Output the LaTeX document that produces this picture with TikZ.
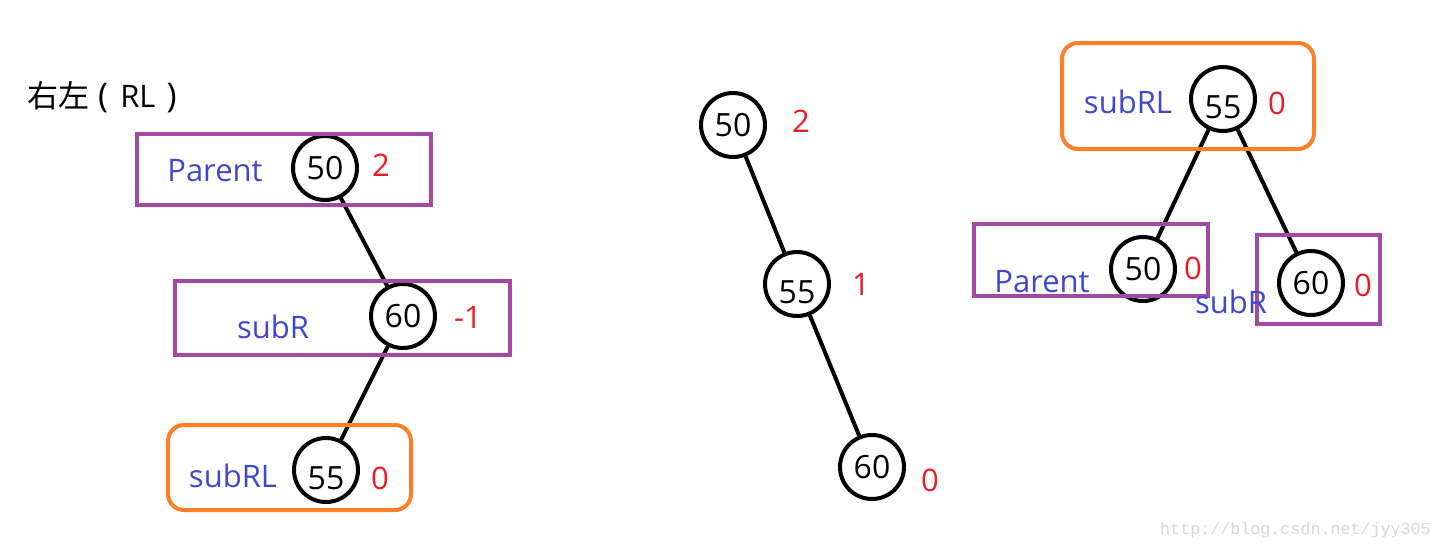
\documentclass[tikz,border=0pt]{standalone}
\usepackage{fontspec}
\setmainfont{Open Sans}
\newfontfamily\cjk{Noto Sans CJK SC}
\newfontfamily\wmfont{Liberation Mono}
\definecolor{pbox}{HTML}{A349A4}
\definecolor{obox}{HTML}{FF7F27}
\definecolor{lblue}{HTML}{3F48CC}
\definecolor{bred}{HTML}{ED1C24}
\definecolor{wm}{HTML}{D9D7D3}
\tikzset{
  treenode/.style={circle,draw=black,line width=4pt,minimum size=64pt,inner sep=0pt,
    font=\fontsize{32}{32}\selectfont,text height=23pt,text depth=0pt},
  lowtext/.style={text height=39pt},
  tlabel/.style={text=lblue,inner sep=0pt,font=\fontsize{31}{31}\selectfont,text height=22pt,text depth=0pt},
  bf/.style={text=bred,inner sep=0pt,font=\fontsize{31}{31}\selectfont,text height=22pt,text depth=0pt},
  edge/.style={line width=4pt,draw=black},
  purplebox/.style={draw=pbox,line width=4pt},
  orangebox/.style={draw=obox,line width=4pt,rounded corners=16pt},
}
\begin{document}
\begin{tikzpicture}[x=1pt,y=-1pt]
\useasboundingbox (0,0) rectangle (1441,552);
% title
\node[anchor=west,inner sep=0pt,font=\fontsize{31}{31}\selectfont] (title) at (27,97)
  {{\cjk 右左}\hspace{9pt}{\fontsize{34}{34}\selectfont(}\hspace{12pt}RL\hspace{11pt}{\fontsize{34}{34}\selectfont)}};

% ---------- left tree ----------
\node[treenode] (l50) at (325,168) {50};
\node[treenode] (l60) at (403,316) {60};
\node[treenode,lowtext] (l55) at (326,470) {55\hspace{12pt}};
\draw[edge] (l50) -- (l60);
\draw[edge] (l60) -- (l55);
\draw[purplebox] (137,134) rectangle (431,205);
\draw[purplebox] (175,281) rectangle (510,355);
\draw[orangebox] (168,425) rectangle (411,510);
\node[tlabel] (lparent) at (215,170) {Parent};
\node[bf] (lbf50) at (381,165) {2};
\node[tlabel] (lsubr) at (273,327) {subR};
\node[bf] (lbf60) at (468,317) {-1};
\node[tlabel] (lsubrl) at (233,476) {subRL};
\node[bf] (lbf55) at (380,478) {0};

% ---------- middle tree ----------
\node[treenode] (m50) at (733,125) {50};
\node[treenode,lowtext] (m55) at (797,284) {55\hspace{12pt}};
\node[treenode] (m60) at (872,467) {60};
\draw[edge] (m50) -- (m55);
\draw[edge] (m55) -- (m60);
\node[bf] (mbf50) at (801,121) {2};
\node[bf] (mbf55) at (861,284) {1};
\node[bf] (mbf60) at (930,480) {0};

% ---------- right tree ----------
\node[treenode,lowtext] (r55) at (1223,99) {55\hspace{8pt}};
\node[treenode] (r50) at (1143,269) {50};
\node[treenode] (r60) at (1311,283) {60};
\draw[edge] (r55) -- (r50);
\draw[edge] (r55) -- (r60);
\draw[orangebox] (1062,43) rectangle (1314,149);
\draw[purplebox] (974,224) rectangle (1208,296);
\draw[purplebox] (1257,235) rectangle (1380,324);
\node[tlabel] (rsubrl) at (1128,102) {subRL};
\node[bf] (rbf55) at (1277,103) {0};
\node[tlabel] (rparent) at (1042,281) {Parent};
\node[bf] (rbf50) at (1193,268) {0};
\node[tlabel] (rsubr) at (1231,302) {subR};
\node[bf] (rbf60) at (1363,285) {0};

% watermark
\node[anchor=east,inner sep=0pt,text=wm,font=\wmfont\fontsize{16.7}{17}\selectfont] (wmark) at (1431,530) {http://blog.csdn.net/jyy305};
\end{tikzpicture}
\end{document}
